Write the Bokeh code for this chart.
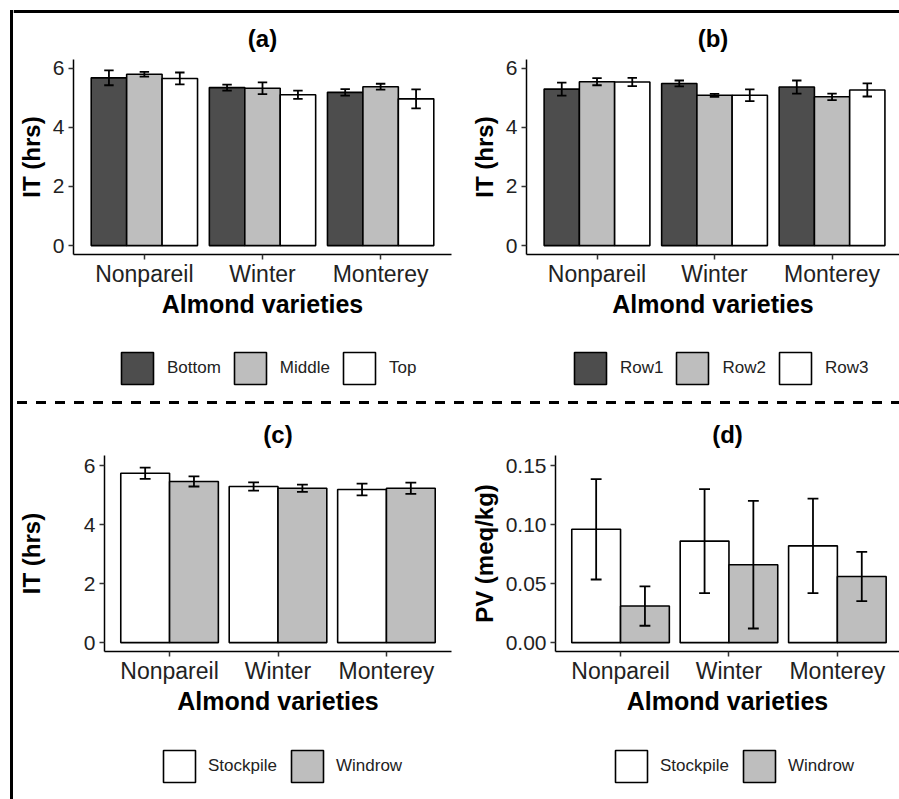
from bokeh.plotting import figure
from bokeh.models import (Range1d, FixedTicker, Legend, LegendItem, ColumnDataSource,
                          Span, NumeralTickFormatter, Div)
from bokeh.transform import dodge
from bokeh.layouts import row, column
from bokeh.embed import file_html
from bokeh.resources import INLINE

FONT = "Liberation Sans"

# ---------------- data ----------------
varieties = ["Nonpareil", "Winter", "Monterey"]

# (a) position in stockpile
a_groups = ["Bottom", "Middle", "Top"]
a_mean = {"Bottom": [5.67, 5.34, 5.18], "Middle": [5.79, 5.32, 5.37], "Top": [5.65, 5.10, 4.96]}
a_se = {"Bottom": [0.25, 0.10, 0.11], "Middle": [0.08, 0.20, 0.10], "Top": [0.20, 0.14, 0.32]}

# (b) row
b_groups = ["Row1", "Row2", "Row3"]
b_mean = {"Row1": [5.29, 5.48, 5.36], "Row2": [5.54, 5.08, 5.03], "Row3": [5.53, 5.08, 5.26]}
b_se = {"Row1": [0.22, 0.10, 0.22], "Row2": [0.12, 0.05, 0.11], "Row3": [0.14, 0.20, 0.22]}

# (c) drying method, IT
c_groups = ["Stockpile", "Windrow"]
c_mean = {"Stockpile": [5.74, 5.29, 5.19], "Windrow": [5.46, 5.23, 5.23]}
c_se = {"Stockpile": [0.19, 0.14, 0.20], "Windrow": [0.17, 0.12, 0.19]}

# (d) drying method, PV
d_groups = ["Stockpile", "Windrow"]
d_mean = {"Stockpile": [0.096, 0.086, 0.082], "Windrow": [0.031, 0.066, 0.056]}
d_se = {"Stockpile": [0.0425, 0.044, 0.040], "Windrow": [0.0167, 0.054, 0.0208]}

three_fill = ["#4D4D4D", "#BEBEBE", "#FFFFFF"]
two_fill = ["#FFFFFF", "#BEBEBE"]

xs = list(range(1, len(varieties) + 1))

BAR_LW = 1.6


def make_source(groups, means, ses):
    data = {"x": xs}
    for g in groups:
        data[g + "_m"] = means[g]
        data[g + "_lo"] = [m - s for m, s in zip(means[g], ses[g])]
        data[g + "_hi"] = [m + s for m, s in zip(means[g], ses[g])]
    return ColumnDataSource(data)


def make_panel(title, ylabel, groups, src, fills, fig_w, fig_h, mb, x_end,
               y_range, y_ticks, y_fmt, y_label_standoff, cap_half):
    p = figure(width=fig_w, height=fig_h, output_backend="svg", toolbar_location=None,
               x_range=Range1d(0.4, x_end), y_range=Range1d(*y_range),
               min_border_left=mb[0], min_border_right=mb[1],
               min_border_top=mb[2], min_border_bottom=mb[3])
    p.outline_line_color = None
    p.xgrid.visible = False
    p.ygrid.visible = False
    p.background_fill_color = "white"
    p.border_fill_color = "white"

    n = len(groups)
    dodge_w = 0.9
    bw = dodge_w / n
    for i, g in enumerate(groups):
        off = -dodge_w / 2 + bw * (i + 0.5)
        p.vbar(x=dodge("x", off), top=g + "_m", bottom=0, width=bw, source=src,
               fill_color=fills[i], line_color="black", line_width=BAR_LW)
        p.segment(x0=dodge("x", off), x1=dodge("x", off), y0=g + "_lo", y1=g + "_hi",
                  source=src, line_color="black", line_width=1.8)
        p.segment(x0=dodge("x", off - cap_half), x1=dodge("x", off + cap_half),
                  y0=g + "_lo", y1=g + "_lo", source=src, line_color="black", line_width=1.8)
        p.segment(x0=dodge("x", off - cap_half), x1=dodge("x", off + cap_half),
                  y0=g + "_hi", y1=g + "_hi", source=src, line_color="black", line_width=1.8)

    p.title.text = title
    p.title.align = "center"
    p.title.vertical_align = "top"
    p.title.text_font = FONT
    p.title.text_font_size = "24px"
    p.title.text_font_style = "bold"
    p.title.text_color = "black"
    p.title.standoff = 12

    for ax in (p.xaxis[0], p.yaxis[0]):
        ax.axis_line_color = "black"
        ax.axis_line_width = 1.5
        ax.major_tick_line_color = "#333333"
        ax.major_tick_line_width = 1.5
        ax.major_tick_in = 0
        ax.major_tick_out = 5
        ax.minor_tick_line_color = None
        ax.major_label_text_font = FONT
        ax.major_label_text_color = "#222222"
        ax.axis_label_text_font = FONT
        ax.axis_label_text_font_style = "bold"
        ax.axis_label_text_color = "black"

    xa = p.xaxis[0]
    xa.ticker = FixedTicker(ticks=xs)
    xa.major_label_overrides = {x: v for x, v in zip(xs, varieties)}
    xa.major_label_text_font_size = "23px"
    xa.major_label_standoff = 1
    xa.axis_label = "Almond varieties"
    xa.axis_label_text_font_size = "25px"
    xa.axis_label_standoff = 0

    ya = p.yaxis[0]
    ya.ticker = FixedTicker(ticks=y_ticks)
    if y_fmt:
        ya.formatter = NumeralTickFormatter(format=y_fmt)
    ya.major_label_text_font_size = "21px"
    ya.major_label_standoff = 4
    ya.axis_label = ylabel
    ya.axis_label_text_font_size = "24px"
    ya.axis_label_standoff = y_label_standoff
    return p


def legend_fig(groups, src, fills, w, h, loc, spacing, standoff):
    lf = figure(width=w, height=h, output_backend="svg", toolbar_location=None, title=None,
                x_range=Range1d(0, 1), y_range=Range1d(0, 1),
                x_axis_type=None, y_axis_type=None, min_border=0)
    lf.outline_line_color = None
    lf.xgrid.visible = False
    lf.ygrid.visible = False
    items = []
    for g, c in zip(groups, fills):
        # key-only renderer: same style as the bars, not drawn itself
        r = lf.vbar(x="x", top=g + "_m", width=0.3, source=src, fill_color=c,
                    line_color="black", line_width=BAR_LW, visible=False)
        items.append(LegendItem(label=g, renderers=[r]))
    leg = Legend(items=items, orientation="horizontal", location=loc,
                 glyph_width=40, glyph_height=40, label_standoff=standoff, spacing=spacing,
                 padding=0, margin=0, border_line_color=None, background_fill_alpha=0,
                 label_text_font=FONT, label_text_font_size="17px", label_text_color="#222222")
    lf.add_layout(leg, "center")
    return lf


sa = make_source(a_groups, a_mean, a_se)
sb = make_source(b_groups, b_mean, b_se)
sc = make_source(c_groups, c_mean, c_se)
sd = make_source(d_groups, d_mean, d_se)

pa = make_panel("(a)", "IT (hrs)", a_groups, sa, three_fill, 443, 327,
                (60, 5, 46, 86), 3.6, (-0.3, 6.29), [0, 2, 4, 6], None, 5, 0.04)
pb = make_panel("(b)", "IT (hrs)", b_groups, sb, three_fill, 443, 327,
                (70, 0, 46, 86), 3.574, (-0.3, 6.29), [0, 2, 4, 6], None, 5, 0.04)
pc = make_panel("(c)", "IT (hrs)", c_groups, sc, two_fill, 443, 329,
                (91, 5, 49, 84), 3.6, (-0.302, 6.34), [0, 2, 4, 6], None, 36, 0.05)
pd = make_panel("(d)", "PV (meq/kg)", d_groups, sd, two_fill, 443, 329,
                (99, 0, 49, 84), 3.573, (-0.0075, 0.1585), [0, 0.05, 0.10, 0.15], "0.00",
                5, 0.05)

la = legend_fig(a_groups, sa, three_fill, 443, 60, (44, 12), 9, 10)
lb = legend_fig(b_groups, sb, three_fill, 443, 60, (44, 12), 9, 10)
lc = legend_fig(c_groups, sc, two_fill, 443, 64, (55, 13), 10, 9)
ld = legend_fig(d_groups, sd, two_fill, 443, 64, (56, 13), 10, 9)


def strip(w, h):
    s = figure(width=w, height=h, output_backend="svg", toolbar_location=None, title=None,
               x_range=Range1d(0, w), y_range=Range1d(0, h),
               x_axis_type=None, y_axis_type=None, min_border=0)
    s.outline_line_color = None
    s.xgrid.visible = False
    s.ygrid.visible = False
    return s


left_strip = strip(13, 799)
left_strip.segment(x0=[11], x1=[11], y0=[0], y1=[789.5], line_color="black", line_width=3)

top_strip = strip(886, 13)
top_strip.add_layout(Span(location=2, dimension="width", line_color="black", line_width=3))

dash_div = Div(text="", width=886, height=6, margin=0, styles={
    "background-image": "repeating-linear-gradient(to right, #000 0px, #000 10px, "
                        "transparent 10px, transparent 19px)",
    "background-size": "100% 3px",
    "background-repeat": "no-repeat",
    "background-position": "4px 1px",
})

layout = row(left_strip,
             column(top_strip,
                    row(column(pa, la), column(pb, lb)),
                    dash_div,
                    row(column(pc, lc), column(pd, ld))))

open("out.html", "w").write(file_html(layout, INLINE))
